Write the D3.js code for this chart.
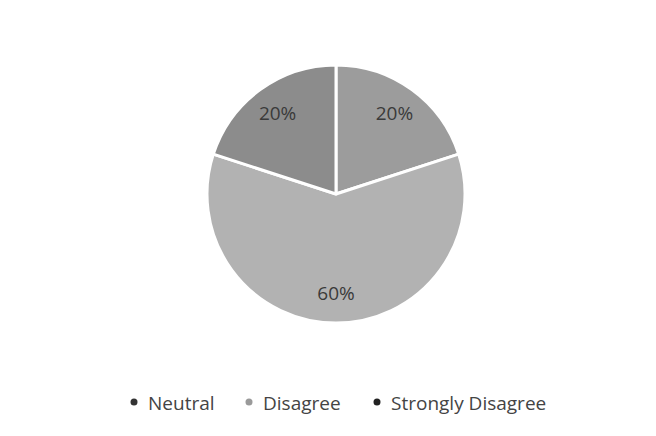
<!DOCTYPE html>
<html>
<head>
<meta charset="utf-8">
<script src="https://cdn.jsdelivr.net/npm/d3@7"></script>
<style>
  body { margin: 0; background: #fff; }
  svg { display: block; }
</style>
</head>
<body>
<svg width="656" height="436"></svg>
<script>
const categories = ["Neutral", "Disagree", "Strongly Disagree"];
const values = [20, 60, 20];
const sliceColors = ["#9c9c9c", "#b2b2b2", "#8c8c8c"];
const markerColors = ["#333333", "#9a9a9a", "#222222"];

const svg = d3.select("svg");
const cx = 336, cy = 194, r = 129;

const data = categories.map((c, i) => ({name: c, value: values[i]}));

const pie = d3.pie().sort(null).value(d => d.value);
const arc = d3.arc().innerRadius(0).outerRadius(r);
const labelArc = d3.arc().innerRadius(r * 0.77).outerRadius(r * 0.77);

const g = svg.append("g").attr("transform", `translate(${cx},${cy})`);

const arcs = pie(data);

g.selectAll("path")
  .data(arcs)
  .join("path")
    .attr("d", arc)
    .attr("fill", (d, i) => sliceColors[i])
    .attr("stroke", "#fff")
    .attr("stroke-width", 3)
    .attr("stroke-linejoin", "round");

g.selectAll("text")
  .data(arcs)
  .join("text")
    .attr("transform", d => `translate(${labelArc.centroid(d)})`)
    .attr("text-anchor", "middle")
    .attr("dy", "0.35em")
    .attr("font-family", "Open Sans, sans-serif")
    .attr("font-size", 19)
    .attr("fill", "#3a3a3a")
    .text(d => d.data.value + "%");

// legend
const legend = svg.append("g").attr("transform", "translate(0,403)");
const legendX = [134, 249, 377];

const item = legend.selectAll("g")
  .data(data)
  .join("g")
    .attr("transform", (d, i) => `translate(${legendX[i]},0)`);

item.append("circle")
  .attr("r", 3.5)
  .attr("cy", -1)
  .attr("fill", (d, i) => markerColors[i]);

item.append("text")
  .attr("x", 14)
  .attr("dy", "0.35em")
  .attr("font-family", "Open Sans, sans-serif")
  .attr("font-size", 19)
  .attr("fill", "#444")
  .text(d => d.name);
</script>
</body>
</html>
